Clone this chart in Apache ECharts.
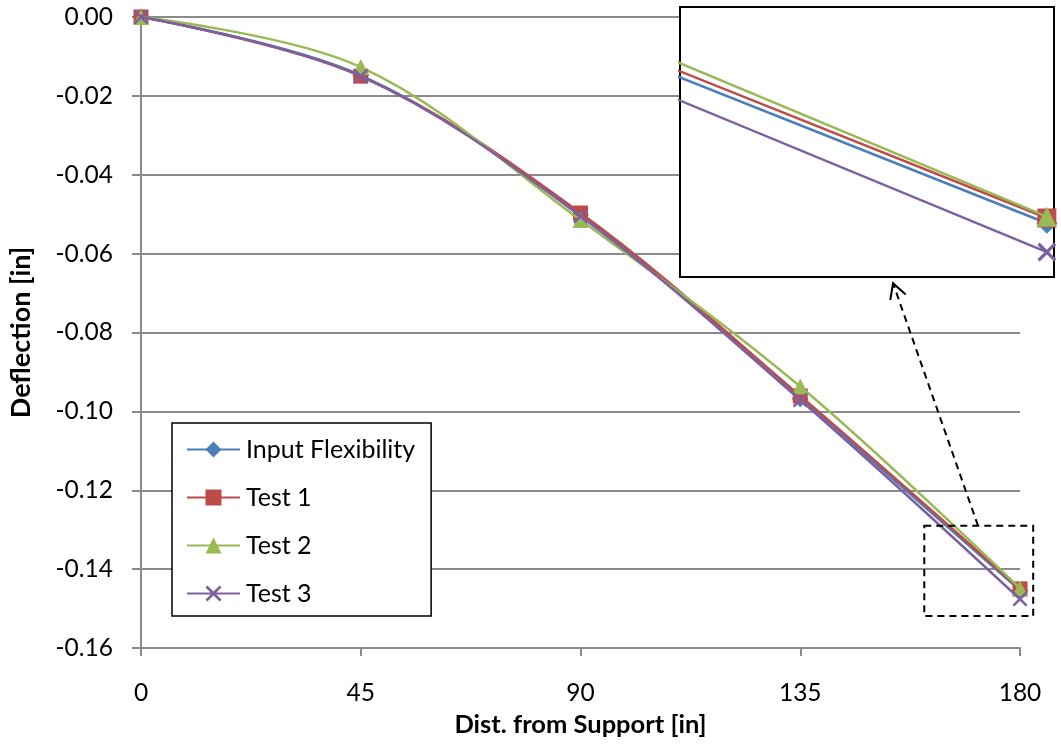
<!DOCTYPE html>
<html>
<head>
<meta charset="utf-8">
<script src="https://cdn.jsdelivr.net/npm/echarts@6/dist/echarts.min.js"></script>
<style>
html,body{margin:0;padding:0;background:#fff;}
#chart{width:1061px;height:750px;}
</style>
</head>
<body>
<div id="chart"></div>
<script>
// ---- data ----
const xValues = [0, 45, 90, 135, 180];
const seriesNames = ['Input Flexibility', 'Test 1', 'Test 2', 'Test 3'];
const inputFlexibility = [0, -0.0148, -0.0502, -0.0968, -0.1454];
const test1 = [0, -0.0150, -0.0497, -0.0961, -0.1450];
const test2 = [0, -0.0127, -0.0515, -0.0937, -0.1449];
const test3 = [0, -0.0150, -0.0505, -0.0971, -0.1476];
const xTicks = [0, 45, 90, 135, 180];
const yTicks = [-0.16, -0.14, -0.12, -0.10, -0.08, -0.06, -0.04, -0.02, 0.00];

// ---- inset / annotation geometry (data space) ----
const insetRange = { xMin: 169.7, xMax: 180.2, yMin: -0.1495, yMax: -0.1289 };
const zoomBox = { x0: 160.4, x1: 182.7, y0: -0.129, y1: -0.1519 };
const arrowFrom = [171.4, -0.129];
const arrowTo = [154.0, -0.0675];

const colors = ['#4A7EBB', '#BE4B48', '#98B954', '#7D60A0'];
const symbols = ['diamond', 'rect', 'triangle',
  'path://M0,1.2L1.2,0L5,3.8L8.8,0L10,1.2L6.2,5L10,8.8L8.8,10L5,6.2L1.2,10L0,8.8L3.8,5Z'];
const symbolSizes = [17, 15, 16, 15];
const valuesList = [inputFlexibility, test1, test2, test3];

const FONT = 'Lato';
const GRAY = '#8a8a8a';

function pairs(vals) { return xValues.map((x, i) => [x, vals[i]]); }

const chart = echarts.init(document.getElementById('chart'), null, { renderer: 'canvas' });

const series = [];
valuesList.forEach((vals, i) => {
  series.push({
    name: seriesNames[i], type: 'line', xAxisIndex: 0, yAxisIndex: 0,
    data: pairs(vals), smooth: 0.35,
    symbol: symbols[i], symbolSize: symbolSizes[i], showAllSymbol: true,
    lineStyle: { color: colors[i], width: 2.5 },
    itemStyle: { color: colors[i] },
    z: 3 + i, animation: false
  });
});
valuesList.forEach((vals, i) => {
  series.push({
    name: seriesNames[i], type: 'line', xAxisIndex: 1, yAxisIndex: 1,
    data: pairs(vals), smooth: false, clip: true,
    symbol: symbols[i], symbolSize: symbolSizes[i] + 4,
    lineStyle: { color: colors[i], width: 2.5 },
    itemStyle: { color: colors[i] },
    z: 10 + i, animation: false
  });
});

chart.setOption({
  animation: false,
  backgroundColor: '#fff',
  textStyle: { fontFamily: FONT },
  grid: [
    { left: 140, right: 41, top: 17, bottom: 102, containLabel: false },
    { left: 680, top: 7, width: 374, height: 270, show: true, backgroundColor: '#fff',
      borderColor: '#000', borderWidth: 2, z: 1 }
  ],
  xAxis: [
    { type: 'value', gridIndex: 0, min: 0, max: 180, interval: 45,
      name: 'Dist. from Support [in]', nameLocation: 'middle', nameGap: 64,
      nameTextStyle: { fontFamily: FONT, fontSize: 25.5, fontWeight: 'bold', color: '#000' },
      axisLine: { onZero: false, lineStyle: { color: GRAY, width: 2 } },
      axisTick: { show: true, length: 8, lineStyle: { color: GRAY, width: 2 } },
      axisLabel: { margin: 33, fontSize: 24.5, color: '#000', fontFamily: FONT,
        formatter: v => xTicks.includes(v) ? String(v) : '' },
      splitLine: { show: false } },
    { type: 'value', gridIndex: 1, min: insetRange.xMin, max: insetRange.xMax, show: false,
      splitLine: { show: false } }
  ],
  yAxis: [
    { type: 'value', gridIndex: 0, min: -0.16, max: 0, interval: 0.02,
      name: 'Deflection [in]', nameLocation: 'middle', nameGap: 106, nameRotate: 90,
      nameTextStyle: { fontFamily: FONT, fontSize: 27, fontWeight: 'bold', color: '#000' },
      axisLine: { show: true, onZero: false, lineStyle: { color: GRAY, width: 2 } },
      axisTick: { show: true, length: 9, lineStyle: { color: GRAY, width: 2 } },
      axisLabel: { margin: 28, fontSize: 24.5, color: '#000', fontFamily: FONT,
        formatter: v => {
          const t = yTicks.find(k => Math.abs(k - v) < 1e-9);
          return t === undefined ? '' : (Math.abs(t) < 1e-9 ? '0.00' : t.toFixed(2));
        } },
      splitLine: { show: true, lineStyle: { color: GRAY, width: 2 } } },
    { type: 'value', gridIndex: 1, min: insetRange.yMin, max: insetRange.yMax, show: false,
      splitLine: { show: false } }
  ],
  legend: {
    orient: 'vertical', left: 172, top: 423,
    data: seriesNames,
    backgroundColor: '#fff', borderColor: '#000', borderWidth: 1.5,
    padding: [14, 16, 10, 14], itemGap: 23, itemWidth: 53, itemHeight: 20,
    textStyle: { fontFamily: FONT, fontSize: 25, color: '#000', padding: [0, 0, 0, 1] },
    z: 20
  },
  series: series
});

function drawAnnotations() {
  const p0 = chart.convertToPixel({ gridIndex: 0 }, [zoomBox.x0, zoomBox.y0]);
  const p1 = chart.convertToPixel({ gridIndex: 0 }, [zoomBox.x1, zoomBox.y1]);
  const a0 = chart.convertToPixel({ gridIndex: 0 }, arrowFrom);
  const a1 = chart.convertToPixel({ gridIndex: 0 }, arrowTo);
  const dx = a1[0] - a0[0], dy = a1[1] - a0[1];
  const len = Math.hypot(dx, dy), ux = dx / len, uy = dy / len;
  const head = 17, spread = 0.5;
  const cos = Math.cos(spread), sin = Math.sin(spread);
  const l = [a1[0] - head * (ux * cos - uy * sin), a1[1] - head * (uy * cos + ux * sin)];
  const r = [a1[0] - head * (ux * cos + uy * sin), a1[1] - head * (uy * cos - ux * sin)];
  chart.setOption({
    graphic: [
      { type: 'rect', z: 30, shape: { x: p0[0], y: p0[1], width: p1[0] - p0[0], height: p1[1] - p0[1] },
        style: { fill: 'none', stroke: '#000', lineWidth: 2, lineDash: [7, 5] } },
      { type: 'line', z: 30, shape: { x1: a0[0], y1: a0[1], x2: a1[0], y2: a1[1] },
        style: { stroke: '#000', lineWidth: 2, lineDash: [7, 5] } },
      { type: 'polyline', z: 30, shape: { points: [l, a1, r] },
        style: { stroke: '#000', lineWidth: 2, fill: 'none' } }
    ]
  });
}
drawAnnotations();
</script>
</body>
</html>
